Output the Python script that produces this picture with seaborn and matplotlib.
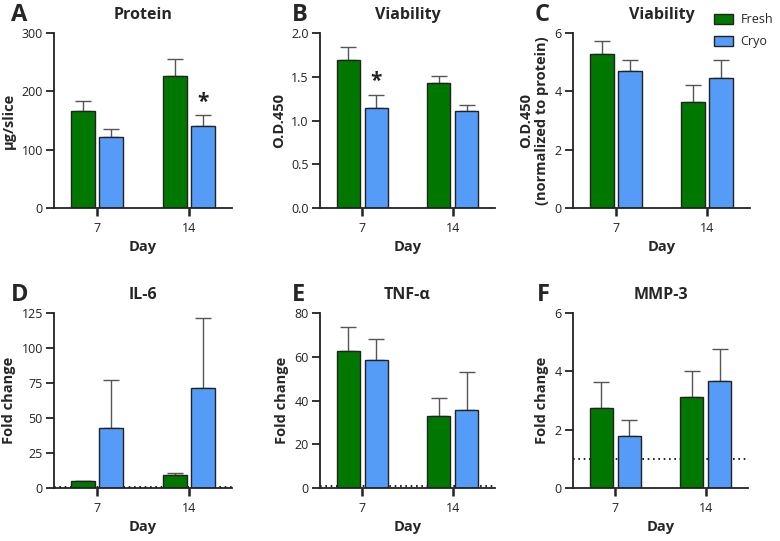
import pandas as pd
import matplotlib
matplotlib.use('Agg')
import matplotlib.pyplot as plt
import seaborn as sns
from matplotlib.patches import Patch

sns.set_theme(style='ticks')
plt.rcParams['font.family'] = ['Open Sans', 'DejaVu Sans']

# ---------------- datos ----------------
days = ['7', '14']
groups = ['Fresh', 'Cryo']
colors = {'Fresh': '#007800', 'Cryo': '#559CF8'}

protein_fresh = [166, 227]
protein_cryo = [122, 141]
protein_fresh_err = [18, 28]
protein_cryo_err = [13, 18]

viab_fresh = [1.69, 1.425]
viab_cryo = [1.146, 1.11]
viab_fresh_err = [0.15, 0.08]
viab_cryo_err = [0.15, 0.07]

viabn_fresh = [5.29, 3.63]
viabn_cryo = [4.69, 4.47]
viabn_fresh_err = [0.42, 0.58]
viabn_cryo_err = [0.40, 0.62]

il6_fresh = [4.8, 9.3]
il6_cryo = [42.9, 71.4]
il6_fresh_err = [0.5, 1.4]
il6_cryo_err = [34.5, 49.8]

tnf_fresh = [62.5, 32.9]
tnf_cryo = [58.5, 35.7]
tnf_fresh_err = [11.1, 8.1]
tnf_cryo_err = [9.8, 17.3]

mmp3_fresh = [2.74, 3.11]
mmp3_cryo = [1.79, 3.68]
mmp3_fresh_err = [0.88, 0.89]
mmp3_cryo_err = [0.55, 1.09]

panels = [
    ('A', 'Protein', 'µg/slice', 300, [0, 100, 200, 300], '{:.0f}',
     protein_fresh, protein_cryo, protein_fresh_err, protein_cryo_err, None, ('Cryo', 1)),
    ('B', 'Viability', 'O.D.450', 2.0, [0, 0.5, 1.0, 1.5, 2.0], '{:.1f}',
     viab_fresh, viab_cryo, viab_fresh_err, viab_cryo_err, None, ('Cryo', 0)),
    ('C', 'Viability', 'O.D.450\n(normalized to protein)', 6, [0, 2, 4, 6], '{:.0f}',
     viabn_fresh, viabn_cryo, viabn_fresh_err, viabn_cryo_err, None, None),
    ('D', 'IL-6', 'Fold change', 125, [0, 25, 50, 75, 100, 125], '{:.0f}',
     il6_fresh, il6_cryo, il6_fresh_err, il6_cryo_err, 1, None),
    ('E', 'TNF-α', 'Fold change', 80, [0, 20, 40, 60, 80], '{:.0f}',
     tnf_fresh, tnf_cryo, tnf_fresh_err, tnf_cryo_err, 1, None),
    ('F', 'MMP-3', 'Fold change', 6, [0, 2, 4, 6], '{:.0f}',
     mmp3_fresh, mmp3_cryo, mmp3_fresh_err, mmp3_cryo_err, 1, None),
]

W, H = 780, 541
fig = plt.figure(figsize=(W / 100, H / 100), dpi=100)

# posiciones de los ejes en pixeles (izq, der, arriba, abajo) y de la letra
boxes = [(54, 232, 33, 208), (320, 495, 33, 208), (573, 750, 33, 208),
         (54, 232, 313, 488), (320, 495, 313, 488), (573, 748, 313, 488)]
letter_pos = [(11, 15), (292, 15), (535, 15), (11, 295), (292, 295), (537, 295)]

for (letter, title, ylabel, ymax, yticks, fmt, fm, cm, fe, ce, ref, star), box, lp in zip(panels, boxes, letter_pos):
    l, r, t, b = box
    ax = fig.add_axes([l / W, 1 - b / H, (r - l) / W, (b - t) / H])

    df = pd.DataFrame({
        'Day': days * 2,
        'Group': ['Fresh'] * 2 + ['Cryo'] * 2,
        'Valor': fm + cm,
    })

    if ref is not None:
        ax.axhline(ref, color='black', lw=1.2, ls=(0, (1, 2.2)), zorder=0.5)

    sns.barplot(data=df, x='Day', y='Valor', hue='Group', order=days, hue_order=groups,
                palette=colors, saturation=1, errorbar=None, width=0.62, gap=0.16,
                edgecolor='#222222', linewidth=1.0, legend=False, ax=ax, zorder=2)

    # barras de error (solo hacia arriba)
    errs = fe + ce
    tops = {}
    for p, e, g, d in zip(ax.patches, errs, df['Group'], df['Day']):
        xc = p.get_x() + p.get_width() / 2
        h = p.get_height()
        ax.errorbar(xc, h, yerr=[[0], [e]], color='#555555', lw=1.0,
                    capsize=5.5, capthick=1.0, zorder=1.5)
        tops[(g, d)] = (xc, h + e)

    if star is not None:
        xs, ys = tops[(star[0], days[star[1]])]
        ax.text(xs, ys + ymax * 0.015, '*', ha='center', va='bottom',
                fontsize=15, fontweight='bold', color='#222222')

    ax.set_xlim(-0.47, 1.47)
    ax.set_ylim(0, ymax)
    ax.set_yticks(yticks)
    ax.set_yticklabels([fmt.format(v) for v in yticks])
    ax.set_xticks([0, 1])
    ax.set_xticklabels(days)
    ax.set_xlabel('Day', fontsize=10.5, fontweight='bold', labelpad=4)
    ax.set_ylabel(ylabel, fontsize=10.5, fontweight='bold', labelpad=4)
    ax.set_title(title, fontsize=11.5, fontweight='bold', pad=10)
    ax.tick_params(axis='both', labelsize=9, colors='#222222', width=1.3,
                   length=6, pad=2, direction='out')
    ax.tick_params(axis='x', length=6, width=1.8, pad=4)
    sns.despine(ax=ax)
    for s in ['left', 'bottom']:
        ax.spines[s].set_linewidth(1.3)
        ax.spines[s].set_color('#222222')
    ax.spines['left'].set_bounds(0, ymax)

    fig.text(lp[0] / W, 1 - lp[1] / H, letter, fontsize=17,
             fontweight='bold', ha='left', va='center')

# leyenda
handles = [Patch(facecolor=colors[g], edgecolor='#222222', lw=1.0, label=g) for g in groups]
fig.legend(handles=handles, loc='upper left', bbox_to_anchor=(714 / W, 1 - 13 / H),
           frameon=False, fontsize=9, handlelength=1.5, handleheight=0.9,
           handletextpad=0.6, labelspacing=0.75, borderaxespad=0, borderpad=0)

plt.savefig('out.png', dpi=100)
